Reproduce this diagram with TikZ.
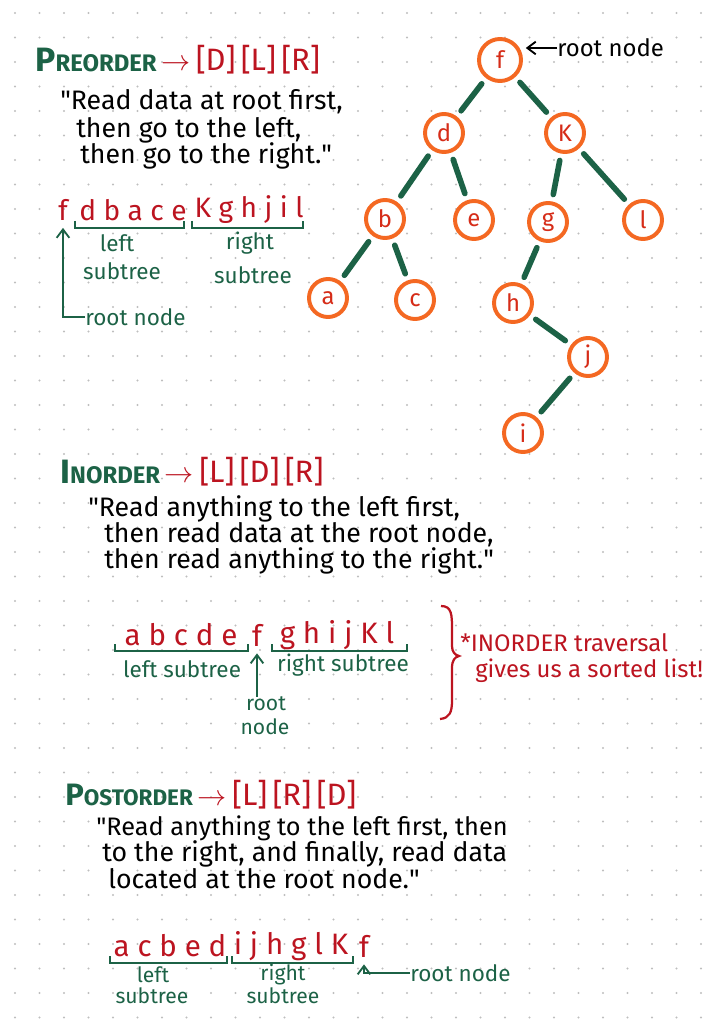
\documentclass[tikz,border=0pt]{standalone}
\usepackage{fontspec}
\setmainfont{Fira Sans}
\usetikzlibrary{positioning, arrows.meta, calc}
\definecolor{cG}{RGB}{28,98,70}
\definecolor{cR}{RGB}{188,20,32}
\definecolor{cO}{RGB}{244,104,34}
\definecolor{cL}{RGB}{214,44,24}
\definecolor{cDot}{RGB}{190,190,190}

\tikzset{
  tnode/.style={circle, draw=cO, line width=2.8pt, fill=white, minimum size=0.95cm, inner sep=0pt, text=cL, font=\fontsize{17}{17}\selectfont},
  tedge/.style={draw=cG, line width=4pt, line cap=round, shorten <=5pt, shorten >=5pt},
  quote/.style={anchor=west, inner sep=0pt, font=\fontsize{19}{22}\selectfont},
  seq/.style={inner sep=0pt, text=cR, font=\fontsize{20}{24}\selectfont},
  sub/.style={inner sep=0pt, text=cG, font=\fontsize{16}{18}\selectfont},
  ttl/.style={anchor=west, inner sep=0pt, text=cG, font=\bfseries\fontsize{17}{20}\selectfont},
  ord/.style={anchor=west, inner sep=0pt, text=cR, font=\fontsize{22}{24}\selectfont},
  ubrace/.style={draw=cG, line width=1.5pt, to path={(\tikztostart) ++(0,-7) -- (\tikztostart) -- (\tikztotarget) -- ++(0,-7)}},
  hand/.style={draw=cG, line width=1.3pt, -{Straight Barb[length=6pt, width=9pt]}},
}

\begin{document}
\begin{tikzpicture}[x=0.025cm, y=-0.025cm]
    \useasboundingbox (0,0) rectangle (722,1024);

    % --- dotted paper ---
    \foreach \i in {0,...,29}
      \foreach \j in {0,...,41}
        \fill[cDot] (15+24.5*\i, 13+24.5*\j) circle (1.1);

    % --- Preorder ---
    \node[ttl] (pt) at (35,60) {{\fontsize{24}{20}\selectfont P}REORDER};
    \node[ord, right=3pt of pt] (pdlr) {$\rightarrow$\,[D]\,[L]\,[R]};
    \node[quote] (p1) at (60,102) {\textquotedbl Read data at root first,};
    \node[quote] (p2) at (76,130) {then go to the left,};
    \node[quote] (p3) at (80,156) {then go to the right.\textquotedbl};

    \node[seq] (pf) at (63,210) {f};
    \node[seq] (pl) at (133,210) {d b a c e};
    \node[seq] (pr) at (249,210) {K g h j i l};
    \draw[ubrace] (75,228) to (184,228);
    \draw[ubrace] (192,228) to (303,228);
    \node[sub] (pls1) at (117,243) {left};
    \node[sub] (pls2) at (122,271) {subtree};
    \node[sub] (prs1) at (250,243) {right};
    \node[sub] (prs2) at (253,275) {subtree};
    \node[sub, anchor=west] (rn1) at (85,317) {root node};
    \draw[hand] (rn1.west) -| ([yshift=-5pt]pf.south);

    % --- Tree ---
    \node[tnode, minimum size=1.05cm] (nf) at (500,60) {f};
    \node[tnode] (nd) at (444,133) {d};
    \node[tnode] (nk) at (565,133) {K};
    \node[tnode] (nb) at (385,219) {b};
    \node[tnode] (ne) at (474,220) {e};
    \node[tnode] (ng) at (548,222) {g};
    \node[tnode] (nl) at (643,220) {l};
    \node[tnode] (na) at (328,298) {a};
    \node[tnode] (nc) at (415,300) {c};
    \node[tnode] (nh) at (513,303) {h};
    \node[tnode] (nj) at (588,357) {j};
    \node[tnode] (ni) at (523,433) {i};
    \foreach \a/\b in {nf/nd, nf/nk, nd/nb, nd/ne, nk/ng, nk/nl, nb/na, nb/nc, ng/nh, nh/nj, nj/ni}
      \draw[tedge] (\a) -- (\b);
    \node[anchor=west, inner sep=0pt, font=\fontsize{17}{18}\selectfont] (rn0) at (557,48) {root node};
    \draw[line width=1.3pt, -{Straight Barb[length=6pt, width=9pt]}, shorten >=2pt] (rn0.west) -- (nf.east |- rn0.west);

    % --- Inorder ---
    \node[ttl] (it) at (60,472) {{\fontsize{24}{20}\selectfont I}NORDER};
    \node[ord, right=3pt of it] (ildr) {$\rightarrow$\,[L]\,[D]\,[R]};
    \node[quote] (i1) at (88,509) {\textquotedbl Read anything to the left first,};
    \node[quote] (i2) at (104,535) {then read data at the root node,};
    \node[quote] (i3) at (104,561) {then read anything to the right.\textquotedbl};

    \node[seq, font=\fontsize{21}{24}\selectfont] (il) at (181,635) {a b c d e};
    \node[seq, font=\fontsize{21}{24}\selectfont] (if) at (257,635) {f};
    \node[seq, font=\fontsize{21}{24}\selectfont] (ir) at (337,635) {g h i j K l};
    \draw[ubrace] (115,651) to (248,651);
    \draw[ubrace] (272,651) to (407,651);
    \node[sub] (ils) at (182,669) {left subtree};
    \node[sub] (irs) at (343,665) {right subtree};
    \node[sub, font=\fontsize{15}{18}\selectfont] (rn2) at (266,704) {root};
    \node[sub, font=\fontsize{15}{18}\selectfont] (rn2b) at (265,727) {node};
    \draw[hand] (if.south |- rn2.north) -- ([yshift=-5pt]if.south);

    \draw[cR, line width=1.6pt] (441,606) .. controls (452,606) and (452,615) .. (452,630)
      -- (452,646) .. controls (452,652) and (455,655) .. (459,656)
      .. controls (455,657) and (452,660) .. (452,668)
      -- (452,700) .. controls (452,712) and (450,718) .. (440,719);
    \node[anchor=west, inner sep=0pt, text=cR, font=\fontsize{17}{18}\selectfont] (note1) at (460,643) {*INORDER traversal};
    \node[anchor=west, inner sep=0pt, text=cR, font=\fontsize{17}{18}\selectfont] (note2) at (475,671) {gives us a sorted list!};

    % --- Postorder ---
    \node[ttl, font=\bfseries\fontsize{16}{20}\selectfont] (qt) at (65,795) {{\fontsize{22}{20}\selectfont P}OSTORDER};
    \node[ord, right=3pt of qt] (qlrd) {$\rightarrow$\,[L]\,[R]\,[D]};
    \node[quote, font=\fontsize{18}{22}\selectfont] (q1) at (96,828) {\textquotedbl Read anything to the left first, then};
    \node[quote] (q2) at (102,854) {to the right, and finally, read data};
    \node[quote] (q3) at (108,879) {located at the root node.\textquotedbl};

    \node[seq, font=\fontsize{21}{24}\selectfont] (ql) at (170,946) {a c b e d};
    \node[seq, font=\fontsize{21}{24}\selectfont] (qr) at (291,946) {i j h g l K};
    \node[seq, font=\fontsize{21}{24}\selectfont] (qf) at (364,946) {f};
    \draw[ubrace] (110,963) to (227,963);
    \draw[ubrace] (232,963) to (353,963);
    \node[sub, font=\fontsize{15}{18}\selectfont] (qls1) at (153,975) {left};
    \node[sub, font=\fontsize{15}{18}\selectfont] (qls2) at (152,996) {subtree};
    \node[sub, font=\fontsize{15}{18}\selectfont] (qrs1) at (283,975) {right};
    \node[sub, font=\fontsize{15}{18}\selectfont] (qrs2) at (283,996) {subtree};
    \node[sub, anchor=west] (rn3) at (410,973) {root node};
    \draw[hand] (rn3.west) -| ([yshift=-5pt]qf.south);

\end{tikzpicture}
\end{document}
